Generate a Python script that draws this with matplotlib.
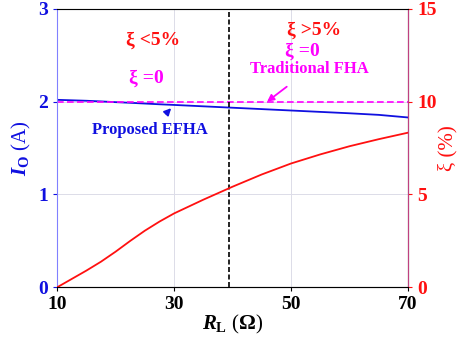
import matplotlib.pyplot as plt

plt.rcParams['font.family'] = 'Liberation Serif'
plt.rcParams['font.weight'] = 'bold'
plt.rcParams['mathtext.fontset'] = 'custom'
plt.rcParams['mathtext.rm'] = 'Liberation Serif:bold'
plt.rcParams['mathtext.it'] = 'Liberation Serif:italic:bold'
plt.rcParams['mathtext.bf'] = 'Liberation Serif:bold'

# Load resistance R_L (ohm)
rl = [10, 12.5, 15, 17.5, 20, 22.5, 25, 27.5, 30, 35, 40, 45, 50, 55, 60, 65, 70]
# Output current, proposed EFHA (A)
io_efha = [2.02, 2.015, 2.01, 2.003, 1.995, 1.988, 1.98, 1.972, 1.965, 1.95, 1.935,
           1.92, 1.905, 1.89, 1.875, 1.858, 1.83]
# Output current, traditional FHA (A)
io_fha = [2.0] * len(rl)
# Error xi (%)
xi = [0.0, 0.45, 0.9, 1.38, 1.92, 2.5, 3.05, 3.54, 3.98, 4.72, 5.42, 6.08, 6.67,
      7.16, 7.6, 7.98, 8.33]
boundary = 39.4

fig, ax = plt.subplots(figsize=(4.61, 3.42), dpi=100)
fig.subplots_adjust(left=0.124, right=0.885, top=0.974, bottom=0.16)

ax.plot(rl, io_efha, color='#1010e0', lw=1.3)
ax.plot(rl, io_fha, color='#ff00ff', lw=1.2, ls='--', dashes=(4, 2))
ax.axvline(boundary, color='black', lw=1.2, ls='--', dashes=(3, 1.5))
ax.set_xlim(10, 70)
ax.set_ylim(0, 3)
ax.set_xticks([10, 30, 50, 70])
ax.set_yticks([0, 1, 2, 3])
ax.grid(True, color='#dcdce8', lw=0.7)
ax.tick_params(axis='x', labelsize=14, colors='black', length=3)
ax.tick_params(axis='y', labelsize=14, labelcolor='#1010e0', color='#1010e0', length=3)
ax.spines['left'].set_color('#8080ff')
ax.spines['top'].set_color('#c0c0c0')
ax.spines['bottom'].set_color('#606060')
ax.set_xlabel(r'$R_{\rm L}$ ($\Omega$)', fontsize=15, labelpad=0)
ax.set_ylabel(r'$I_{\rm O}$ (A)', fontsize=15, color='#1010e0', labelpad=4)

ax2 = ax.twinx()
ax2.plot(rl, xi, color='#ff1010', lw=1.3)
ax2.set_ylim(0, 15)
ax2.set_yticks([0, 5, 10, 15])
ax2.tick_params(axis='y', labelsize=14, labelcolor='#ff1010', color='#ff1010', length=3)
ax2.spines['right'].set_color('#c04080')
ax2.spines['left'].set_visible(False)
ax2.set_ylabel('\u03be (%)', fontsize=15, color='#ff1010', labelpad=1)

# annotations
kw = dict(fontsize=14, fontweight='bold', ha='center', va='center')
ax.text(26.4, 2.66, '\u03be <5%', color='#ff1010', **kw)
ax.text(25.2, 2.25, '\u03be =0', color='#ff00ff', **kw)
ax.text(53.9, 2.77, '\u03be >5%', color='#ff1010', **kw)
ax.text(51.9, 2.54, '\u03be =0', color='#ff00ff', **kw)
ax.annotate('Traditional FHA', xy=(45.9, 2.0), xytext=(53.2, 2.35),
            color='#ff00ff', fontsize=12, fontweight='bold', ha='center', va='center',
            arrowprops=dict(arrowstyle='-|>', color='#ff00ff', lw=1.3,
                            shrinkA=8, shrinkB=0, mutation_scale=10))
ax.annotate('Proposed EFHA', xy=(29.5, 1.93), xytext=(25.9, 1.69),
            color='#1010e0', fontsize=12, fontweight='bold', ha='center', va='center',
            arrowprops=dict(arrowstyle='-|>', color='#1010e0', lw=1.3,
                            shrinkA=6, shrinkB=0, mutation_scale=10))

fig.savefig('out.png', dpi=100)
